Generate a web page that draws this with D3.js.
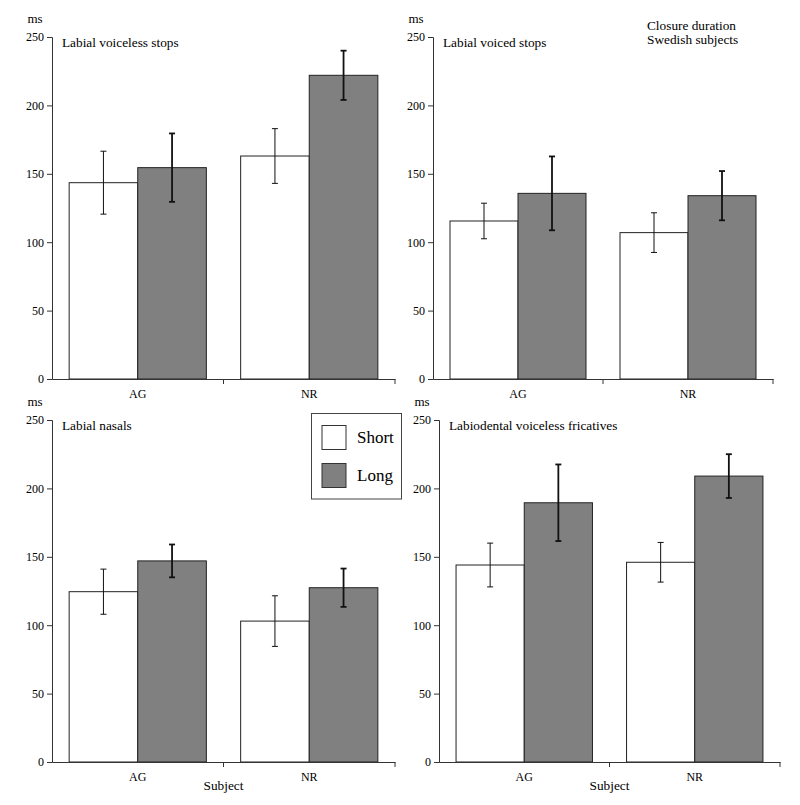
<!DOCTYPE html>
<html>
<head>
<meta charset="utf-8">
<script src="https://cdn.jsdelivr.net/npm/d3@7"></script>
<style>
  body { margin: 0; background: #fff; }
  svg text { font-family: "Liberation Serif", "Times New Roman", serif; fill: #000; }
</style>
</head>
<body>
<svg id="chart" width="800" height="805"></svg>
<script>
// ---- Data ----
const subjects = ["AG", "NR"];
const conditions = ["Short", "Long"];
const panelTitles = ["Labial voiceless stops", "Labial voiced stops", "Labial nasals", "Labiodental voiceless fricatives"];
const shortMeans = [[143.5, 163], [115.5, 107], [124.5, 103], [144, 146]];
const shortErrs  = [[23, 20], [13, 14.5], [16.5, 18.5], [16, 14.5]];
const longMeans  = [[154.5, 222], [135.7, 134], [147, 127.4], [189.5, 209]];
const longErrs   = [[25, 18], [27, 18], [12, 14], [28, 16]];
const yTicks = [0, 50, 100, 150, 200, 250];
const chartTitle = ["Closure duration", "Swedish subjects"];
const xAxisTitle = "Subject";
const yUnit = "ms";

// ---- Layout ----
const layout = [
  { x0: 52,  x1: 395, yTop: 37,  y0: 379, subject: false },
  { x0: 433, x1: 773, yTop: 37,  y0: 379, subject: false },
  { x0: 52,  x1: 395, yTop: 420, y0: 762, subject: true },
  { x0: 439, x1: 780, yTop: 420, y0: 762, subject: true }
];
const colors = { Short: "#ffffff", Long: "#808080" };
const axisColor = "#333";

const svg = d3.select("#chart");

layout.forEach((L, i) => {
  const g = svg.append("g");
  const y = d3.scaleLinear().domain([0, 250]).range([L.y0, L.yTop]);
  const x = d3.scaleBand().domain(subjects).range([L.x0, L.x1]).paddingInner(0).paddingOuter(0);
  const xs = d3.scaleBand().domain(conditions).range([0, x.bandwidth()]).paddingInner(0).paddingOuter(0.25);

  const rows = [];
  subjects.forEach((s, j) => {
    rows.push({ subj: s, cond: "Short", v: shortMeans[i][j], e: shortErrs[i][j] });
    rows.push({ subj: s, cond: "Long", v: longMeans[i][j], e: longErrs[i][j] });
  });

  // bars
  g.selectAll("rect.bar").data(rows).enter().append("rect")
    .attr("x", d => x(d.subj) + xs(d.cond))
    .attr("y", d => y(d.v))
    .attr("width", xs.bandwidth())
    .attr("height", d => y(0) - y(d.v))
    .attr("fill", d => colors[d.cond])
    .attr("stroke", "#222")
    .attr("stroke-width", 1);

  // error bars
  const eb = g.selectAll("g.err").data(rows).enter().append("g")
    .attr("stroke", "#111")
    .attr("stroke-width", d => d.cond === "Long" ? 1.8 : 1);
  const cx = d => x(d.subj) + xs(d.cond) + xs.bandwidth() / 2;
  eb.append("line")
    .attr("x1", cx).attr("x2", cx)
    .attr("y1", d => y(d.v + d.e)).attr("y2", d => y(d.v - d.e));
  eb.append("line")
    .attr("x1", d => cx(d) - 3).attr("x2", d => cx(d) + 3)
    .attr("y1", d => y(d.v + d.e)).attr("y2", d => y(d.v + d.e));
  eb.append("line")
    .attr("x1", d => cx(d) - 3).attr("x2", d => cx(d) + 3)
    .attr("y1", d => y(d.v - d.e)).attr("y2", d => y(d.v - d.e));

  // y axis
  const ya = g.append("g").attr("transform", `translate(${L.x0},0)`)
    .call(d3.axisLeft(y).tickValues(yTicks).tickSize(5).tickPadding(3));
  ya.select(".domain").attr("stroke", axisColor);
  ya.selectAll(".tick line").attr("stroke", axisColor);
  ya.selectAll(".tick text").attr("font-size", 12).attr("font-family", "Liberation Serif").attr("fill", "#000");

  // x axis
  const xa = g.append("g").attr("transform", `translate(0,${L.y0})`)
    .call(d3.axisBottom(x).tickSize(0).tickSizeOuter(0).tickPadding(10));
  xa.select(".domain").attr("stroke", axisColor);
  xa.selectAll(".tick text").attr("font-size", 12).attr("font-family", "Liberation Serif").attr("fill", "#000");
  // boundary ticks
  const bounds = [L.x0 + x.bandwidth(), L.x1];
  xa.selectAll("line.bt").data(bounds).enter().append("line")
    .attr("x1", d => d).attr("x2", d => d).attr("y1", 0).attr("y2", 5)
    .attr("stroke", axisColor);

  // ms label
  g.append("text").attr("x", L.x0 - 17).attr("y", L.yTop - 14)
    .attr("text-anchor", "middle").attr("font-size", 13).text(yUnit);

  // panel title
  g.append("text").attr("x", L.x0 + 10).attr("y", L.yTop + 10)
    .attr("font-size", 13.3).text(panelTitles[i]);

  if (L.subject) {
    g.append("text").attr("x", (L.x0 + L.x1) / 2).attr("y", L.y0 + 28)
      .attr("text-anchor", "middle").attr("font-size", 13.3).text(xAxisTitle);
  }
});

// chart title
svg.append("g").selectAll("text").data(chartTitle).enter().append("text")
  .attr("x", 647).attr("y", (d, k) => 30 + k * 13.5)
  .attr("font-size", 13.3).text(d => d);

// legend
const lg = svg.append("g");
lg.append("rect").attr("x", 311.5).attr("y", 413.5).attr("width", 90).attr("height", 85.5)
  .attr("fill", "#fff").attr("stroke", "#444").attr("stroke-width", 1);
const li = lg.selectAll("g.li").data(conditions).enter().append("g")
  .attr("transform", (d, k) => `translate(322,${425.5 + k * 38})`);
li.append("rect").attr("width", 24).attr("height", 24)
  .attr("fill", d => colors[d]).attr("stroke", "#333");
li.append("text").attr("x", 35).attr("y", 17).attr("font-size", 17).text(d => d);
</script>
</body>
</html>
